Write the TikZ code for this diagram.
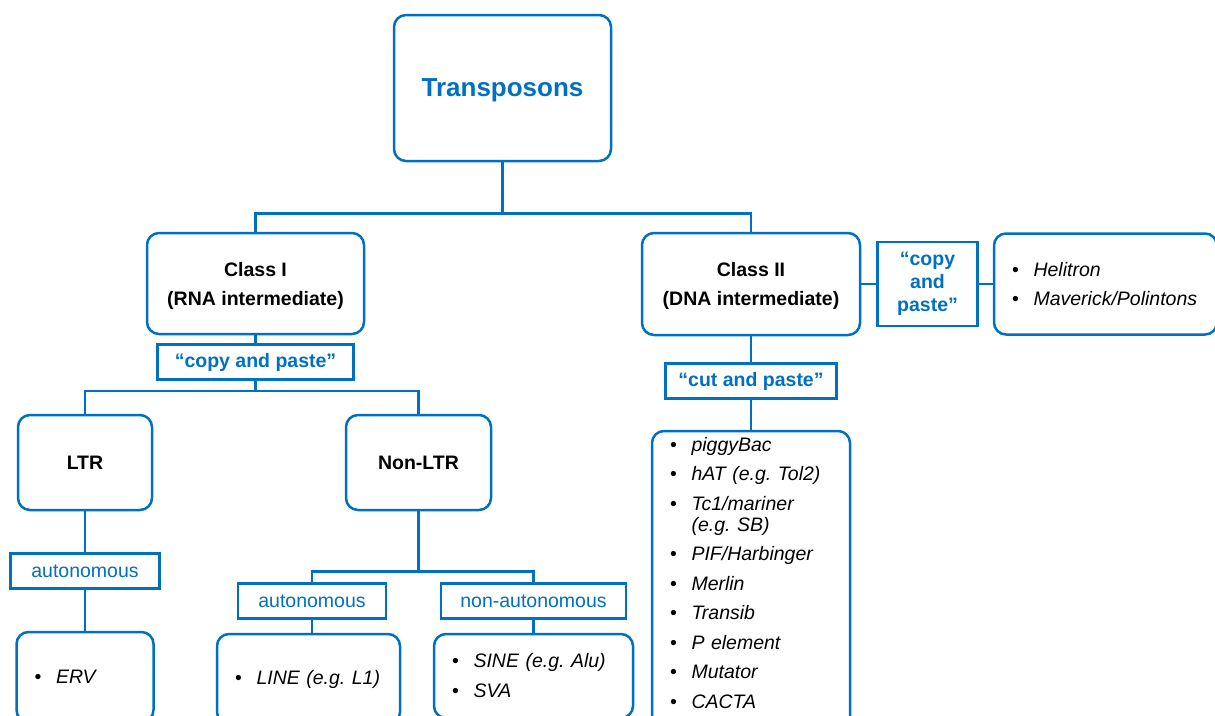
\documentclass[tikz,border=0pt]{standalone}
\usepackage{fontspec}
\setmainfont{Liberation Sans}
\usepackage{xcolor}
\usetikzlibrary{positioning}
\definecolor{tpblue}{RGB}{0,112,192}
\newcommand{\tpitem}[1]{\mbox{\makebox[21.5pt][l]{\textbullet}\textit{#1}}}
\tikzset{
  roundbox/.style={
    rectangle,
    rounded corners=12pt,
    draw=tpblue,
    line width=2.5pt,
    align=center,
    inner sep=4pt,
    text depth=0pt,
    font=\fontsize{19.5}{23}\selectfont\bfseries
  },
  tagbox/.style={
    rectangle,
    draw=tpblue,
    line width=2.5pt,
    text=tpblue,
    align=center,
    inner sep=2pt,
    font=\fontsize{19.5}{23}\selectfont
  },
  tagboxbold/.style={
    tagbox,
    font=\fontsize{19.5}{23}\selectfont\bfseries
  },
  listbox/.style={
    rectangle,
    rounded corners=12pt,
    draw=tpblue,
    line width=2.5pt,
    align=left,
    inner xsep=18pt,
    inner ysep=4pt,
    font=\fontsize{19.5}{23}\selectfont\frenchspacing
  },
  treeline/.style={
    draw=tpblue,
    line width=2.5pt
  }
}

\begin{document}
\begin{tikzpicture}[x=1pt, y=1pt]
\useasboundingbox (0,0) rectangle (1215,-715);
\clip (0,0) rectangle (1215,-715);

\node[roundbox, minimum width=217pt, minimum height=146pt, text=tpblue, font=\fontsize{26}{30}\selectfont\bfseries] (top) at (502.5,-88) {Transposons};
\node[roundbox, minimum width=217pt, minimum height=101pt] (class1) at (255.5,-283.5) {Class I\\[6pt](RNA intermediate)};
\node[roundbox, minimum width=218pt, minimum height=102pt] (class2) at (751,-284) {Class II\\[6pt](DNA intermediate)};
\node[tagboxbold, minimum width=100pt, minimum height=84pt, right=15pt of class2] (cp2) {“copy\\and\\paste”};
\node[listbox, text width=187pt, minimum height=101pt, right=14pt of cp2] (heli) {\tpitem{Helitron}\\[6pt]\tpitem{Maverick/Polintons}};
\node[tagboxbold, minimum width=196pt, minimum height=35pt, below=8pt of class1] (cp1) {“copy and paste”};
\node[tagboxbold, minimum width=171pt, minimum height=35pt, below=26pt of class2] (cut) {“cut and paste”};
\node[listbox, text width=162pt, inner ysep=6pt, below=30pt of cut] (dnalist) {\tpitem{piggyBac}\\[6.5pt]\tpitem{hAT (e.g. Tol2)}\\[6.5pt]\tpitem{Tc1/mariner}\\[-2pt]\hspace*{21.5pt}\textit{(e.g. SB)}\\[6.5pt]\tpitem{PIF/Harbinger}\\[6.5pt]\tpitem{Merlin}\\[6.5pt]\tpitem{Transib}\\[6.5pt]\tpitem{P element}\\[6.5pt]\tpitem{Mutator}\\[6.5pt]\tpitem{CACTA}\rule[-14pt]{0pt}{14pt}};

\node[roundbox, minimum width=134pt, minimum height=95pt] (ltr) at (85,-462.5) {LTR};
\node[roundbox, minimum width=145pt, minimum height=95pt] (nonltr) at (418.5,-462.5) {Non-LTR};
\node[tagbox, minimum width=149pt, minimum height=35pt, below=41pt of ltr] (auto1) {autonomous};
\node[listbox, text width=101pt, minimum height=90pt, below=41pt of auto1] (erv) {\tpitem{ERV}};
\node[tagbox, minimum width=148pt, minimum height=35pt] (auto2) at (312,-601) {autonomous};
\node[tagbox, minimum width=185pt, minimum height=35pt] (nonauto) at (533.5,-601) {non-autonomous};
\node[listbox, text width=147pt, minimum height=90pt, below=13pt of auto2, xshift=-3.5pt] (line) {\tpitem{LINE (e.g. L1)}};
\node[listbox, text width=163pt, minimum height=84pt, below=13pt of nonauto] (sine) {\tpitem{SINE (e.g. Alu)}\\[7pt]\tpitem{SVA}};

\draw[treeline] (top.south) -- ++(0,-51) coordinate (split1);
\draw[treeline] (split1) -| (class1.north);
\draw[treeline] (split1) -| (class2.north);
\draw[treeline] (class1.south) -- (cp1.north);
\draw[treeline] (cp1.south) -- ++(0,-10) coordinate (split2);
\draw[treeline] (split2) -| (ltr.north);
\draw[treeline] (split2) -| (nonltr.north);
\draw[treeline] (ltr.south) -- (auto1.north);
\draw[treeline] (auto1.south) -- (erv.north);
\draw[treeline] (nonltr.south) -- ++(0,-60) coordinate (split3);
\draw[treeline] (split3) -| (auto2.north);
\draw[treeline] (split3) -| (nonauto.north);
\draw[treeline] (auto2.south) -- (auto2.south |- line.north);
\draw[treeline] (nonauto.south) -- (sine.north);
\draw[treeline] (class2.south) -- (cut.north);
\draw[treeline] (cut.south) -- (dnalist.north);
\draw[treeline] (class2.east) -- (cp2.west);
\draw[treeline] (cp2.east) -- (heli.west);
\end{tikzpicture}
\end{document}
